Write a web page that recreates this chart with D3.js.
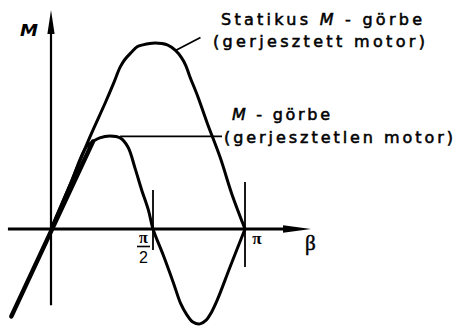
<!DOCTYPE html>
<html>
<head>
<meta charset="utf-8">
<script src="https://cdn.jsdelivr.net/npm/d3@7"></script>
<style>
  html, body { margin: 0; padding: 0; background: #fff; }
  svg { display: block; }
  .lbl { font-family: "DejaVu Sans", sans-serif; font-size: 16px; fill: #000; stroke: #000; stroke-width: 0.55px; }
</style>
</head>
<body>
<svg id="chart" width="457" height="326"></svg>
<script>
// Load angle β in degrees; torque M relative to the pull-out torque of the excited motor.
// Static torque curve of the excited motor
const excitedBeta = [0, 17, 34, 48, 55, 61, 65, 71, 76, 81, 92, 104, 112, 118, 122, 126, 134, 143, 156, 167, 180];
const excitedM    = [0, 0.24, 0.49, 0.68, 0.78, 0.87, 0.91, 0.95, 0.98, 0.99, 1.0, 0.99, 0.96, 0.92, 0.88, 0.82, 0.71, 0.57, 0.38, 0.19, 0];

// Torque curve of the unexcited (reluctance) motor
const unexcitedBeta = [0, 17, 31, 37, 43, 52, 61, 68, 74, 80, 86, 90, 100, 110, 117, 123, 129, 136, 142, 147, 153, 165, 180];
const unexcitedM    = [0, 0.24, 0.44, 0.47, 0.49, 0.50, 0.49, 0.44, 0.33, 0.21, 0.10, 0, -0.14, -0.29, -0.40, -0.46, -0.50, -0.51, -0.49, -0.45, -0.38, -0.21, 0];

// Slope of the curves at the origin
const tangentBeta = [-35, 37];
const tangentM    = [-0.47, 0.47];

// Axis extents
const betaExtent = [-38, 244.6];
const mExtent    = [-0.41, 1.177];

// β-axis ticks
const betaTicks      = [90, 180];
const betaTickLabels = ["π/2", "π"];

// Curve captions
const excitedCaption   = ["Statikus ", "M", " - görbe", "(gerjesztett motor)"];
const unexcitedCaption = ["M", " - görbe", "(gerjesztetlen motor)"];
const axisTitles = { m: "M", beta: "β" };

const svg = d3.select("#chart");

const x = d3.scaleLinear().domain([0, 90, 180]).range([51, 153, 245]);
const y = d3.scaleLinear().domain([0, 1]).range([229, 43]);

const line = d3.line()
  .x(d => x(d[0]))
  .y(d => y(d[1]))
  .curve(d3.curveCatmullRom.alpha(0.5));

// --- axes ---
const x0 = x(0), y0 = y(0);
svg.append("line")
  .attr("x1", x(betaExtent[0])).attr("y1", y0)
  .attr("x2", x(betaExtent[1]) - 20).attr("y2", y0)
  .attr("stroke", "#000").attr("stroke-width", 2.8);
svg.append("line")
  .attr("x1", x0).attr("y1", y(mExtent[0]))
  .attr("x2", x0).attr("y2", y(mExtent[1]) + 14)
  .attr("stroke", "#000").attr("stroke-width", 2.2);

// arrow heads
const bx = x(betaExtent[1]), my = y(mExtent[1]);
svg.append("path")
  .attr("d", `M${bx},${y0} L${bx - 28},${y0 - 3.8} L${bx - 28},${y0 + 3.8} Z`)
  .attr("fill", "#000");
svg.append("path")
  .attr("d", `M${x0},${my} L${x0 - 3.6},${my + 24} L${x0 + 3.6},${my + 24} Z`)
  .attr("fill", "#000");

// tick marks at π/2 and π
const tickReach = [[39, 21], [47, 38]];
betaTicks.forEach((b, i) => {
  svg.append("line")
    .attr("x1", x(b)).attr("x2", x(b))
    .attr("y1", y0 - tickReach[i][0]).attr("y2", y0 + tickReach[i][1])
    .attr("stroke", "#000").attr("stroke-width", 1.8);
});

// tick labels
{
  const px = x(betaTicks[0]) - 9.5;
  const g = svg.append("g");
  g.append("text").attr("x", px).attr("y", y0 + 14)
    .attr("text-anchor", "middle")
    .attr("font-family", "Liberation Serif, serif").attr("font-weight", "bold")
    .attr("font-size", 16).text(betaTickLabels[0].split("/")[0]);
  g.append("line").attr("x1", px - 6.5).attr("x2", px + 6.5)
    .attr("y1", y0 + 17.5).attr("y2", y0 + 17.5)
    .attr("stroke", "#000").attr("stroke-width", 1.6);
  g.append("text").attr("x", px).attr("y", y0 + 34)
    .attr("text-anchor", "middle")
    .attr("font-family", "Liberation Sans, sans-serif")
    .attr("font-size", 16).text(betaTickLabels[0].split("/")[1]);

  svg.append("text").attr("x", x(betaTicks[1]) + 12).attr("y", y0 + 15)
    .attr("text-anchor", "middle")
    .attr("font-family", "Liberation Serif, serif").attr("font-weight", "bold")
    .attr("font-size", 17).text(betaTickLabels[1]);
}

// axis titles
svg.append("text").attr("x", 20).attr("y", 36)
  .attr("font-family", "DejaVu Sans, sans-serif").attr("font-style", "italic")
  .attr("font-weight", "bold").attr("font-size", 15)
  .attr("textLength", 18).attr("lengthAdjust", "spacingAndGlyphs")
  .text(axisTitles.m);
svg.append("text").attr("x", bx - 6).attr("y", y0 + 21)
  .attr("font-family", "Liberation Serif, serif")
  .attr("stroke", "#000").attr("stroke-width", 0.5)
  .attr("font-size", 21).text(axisTitles.beta);

// --- curves ---
const excited = excitedBeta.map((b, i) => [b, excitedM[i]]);
const unexcited = unexcitedBeta.map((b, i) => [b, unexcitedM[i]]);
const tangent = tangentBeta.map((b, i) => [b, tangentM[i]]);

svg.append("path").datum(excited).attr("d", line)
  .attr("fill", "none").attr("stroke", "#000").attr("stroke-width", 3)
  .attr("stroke-linejoin", "round");
svg.append("path").datum(unexcited).attr("d", line)
  .attr("fill", "none").attr("stroke", "#000").attr("stroke-width", 3)
  .attr("stroke-linejoin", "round");
svg.append("path").datum(tangent).attr("d", d3.line().x(d => x(d[0])).y(d => y(d[1])))
  .attr("fill", "none").attr("stroke", "#000").attr("stroke-width", 4.5)
  .attr("stroke-linecap", "round");

// --- captions with leader lines ---
const a1 = excited[12];
svg.append("line")
  .attr("x1", x(a1[0])).attr("y1", y(a1[1]))
  .attr("x2", x(a1[0]) + 25).attr("y2", y(a1[1]) - 13)
  .attr("stroke", "#000").attr("stroke-width", 1.8);

const a2 = unexcited[6];
svg.append("line")
  .attr("x1", x(a2[0])).attr("y1", y(a2[1]) - 1.5)
  .attr("x2", 222).attr("y2", y(a2[1]) - 1.5)
  .attr("stroke", "#000").attr("stroke-width", 1.8);

function caption(px, py, parts, width) {
  const t = svg.append("text").attr("class", "lbl")
    .attr("x", px).attr("y", py)
    .attr("textLength", width).attr("lengthAdjust", "spacing");
  parts.forEach(p => {
    const s = t.append("tspan").text(p);
    if (p === "M") s.attr("font-style", "italic");
  });
}
caption(221, 25, excitedCaption.slice(0, 3), 201);
caption(213, 47, [excitedCaption[3]], 212);
caption(232, 120, unexcitedCaption.slice(0, 2), 98);
caption(224, 143, [unexcitedCaption[2]], 229);
</script>
</body>
</html>
